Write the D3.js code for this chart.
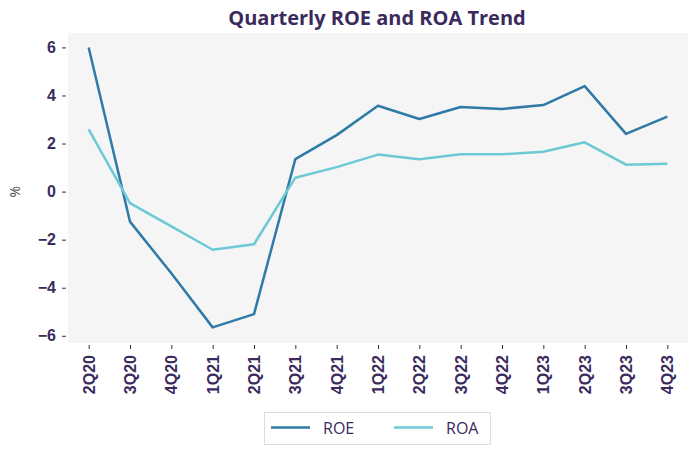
<!DOCTYPE html>
<html>
<head>
<meta charset="utf-8">
<script src="https://cdn.jsdelivr.net/npm/d3@7"></script>
<style>
  html, body { margin: 0; padding: 0; background: #fff; }
  svg { display: block; font-family: "Open Sans", "Noto Sans", sans-serif; }
</style>
</head>
<body>
<svg id="chart" width="697" height="455"></svg>
<script>
const quarters = ["2Q20","3Q20","4Q20","1Q21","2Q21","3Q21","4Q21","1Q22","2Q22","3Q22","4Q22","1Q23","2Q23","3Q23","4Q23"];
const roe = [6.0, -1.25, -3.4, -5.65, -5.1, 1.35, 2.35, 3.57, 3.02, 3.52, 3.44, 3.6, 4.39, 2.4, 3.12];
const roa = [2.59, -0.48, -1.45, -2.42, -2.19, 0.58, 1.02, 1.54, 1.35, 1.55, 1.55, 1.66, 2.05, 1.12, 1.16];
const yTicks = [-6, -4, -2, 0, 2, 4, 6];
const seriesNames = ["ROE", "ROA"];
const seriesColors = ["#2f7aa6", "#6dc9d6"];

const svg = d3.select("#chart");
const textColor = "#3b2a5c";
const m = {left: 68, right: 9, top: 33, bottom: 112};
const W = 697, H = 455;
const pw = W - m.left - m.right, ph = H - m.top - m.bottom;

const x = d3.scalePoint().domain(quarters).range([m.left, m.left + pw]).padding(0.5);
const y = d3.scaleLinear().domain([-6.3, 6.6]).range([m.top + ph, m.top]);

svg.append("rect").attr("x", m.left).attr("y", m.top).attr("width", pw).attr("height", ph).attr("fill", "#f5f5f5");

svg.append("text").attr("x", 377).attr("y", 25).attr("text-anchor", "middle")
  .attr("font-size", 20).attr("font-weight", 700).attr("fill", textColor)
  .text("Quarterly ROE and ROA Trend");

const yAxis = svg.append("g").attr("transform", `translate(${m.left - 2},0)`)
  .call(d3.axisLeft(y).tickValues(yTicks).tickSize(4).tickPadding(6).tickFormat(d => d < 0 ? "\u2212" + Math.abs(d) : d));
yAxis.select(".domain").remove();
yAxis.selectAll(".tick line").attr("stroke", textColor);
yAxis.selectAll("text").attr("font-size", 16).attr("font-weight", 600).attr("fill", textColor);

const xAxis = svg.append("g").attr("transform", `translate(0,${m.top + ph + 2})`)
  .call(d3.axisBottom(x).tickSize(4).tickPadding(6));
xAxis.select(".domain").remove();
xAxis.selectAll(".tick line").attr("stroke", textColor);
xAxis.selectAll("text").attr("font-size", 16).attr("font-weight", 600).attr("fill", textColor)
  .attr("text-anchor", "end").attr("dy", "0.35em")
  .attr("transform", "translate(0,10) rotate(-90)").attr("x", 0).attr("y", 0);

svg.append("text").attr("transform", `translate(20,${y(0)}) rotate(-90)`).attr("text-anchor", "middle")
  .attr("font-size", 14).attr("fill", "#444").text("%");

const line = d3.line().x((d, i) => x(quarters[i])).y(d => y(d));
[roe, roa].forEach((s, k) => {
  svg.append("path").datum(s).attr("d", line).attr("fill", "none")
    .attr("stroke", seriesColors[k]).attr("stroke-width", 2.5).attr("stroke-linejoin", "round");
});

// legend
const lg = svg.append("g");
lg.append("rect").attr("x", 264.5).attr("y", 412.5).attr("width", 226).attr("height", 32)
  .attr("fill", "#fff").attr("stroke", "#dddddd");
seriesNames.forEach((n, k) => {
  const x0 = 271 + k * 123;
  lg.append("line").attr("x1", x0).attr("x2", x0 + 39).attr("y1", 427.5).attr("y2", 427.5)
    .attr("stroke", seriesColors[k]).attr("stroke-width", 2.5);
  lg.append("text").attr("x", x0 + 52).attr("y", 433.5).attr("font-size", 16)
    .attr("fill", textColor).text(n);
});
</script>
</body>
</html>
